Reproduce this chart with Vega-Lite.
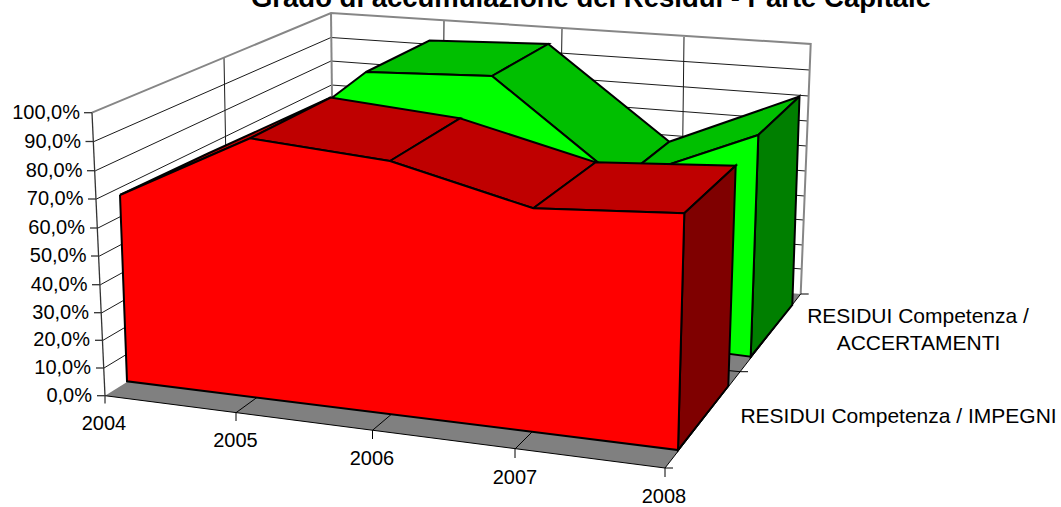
{"$schema":"https://vega.github.io/schema/vega-lite/v6.json","width":1061,"height":507,"padding":0,"autosize":"none","background":"white","config":{"view":{"stroke":null}},
"datasets":{
"griglia":[
{"id":"p90","o":0,"sx":94,"sy":141.5},{"id":"p90","o":1,"sx":331,"sy":37.5},{"id":"p90","o":2,"sx":809.7,"sy":70},
{"id":"p80","o":0,"sx":95.5,"sy":170.7},{"id":"p80","o":1,"sx":331,"sy":61},{"id":"p80","o":2,"sx":808.7,"sy":96},
{"id":"p70","o":0,"sx":96.5,"sy":199},{"id":"p70","o":1,"sx":331.5,"sy":85},{"id":"p70","o":2,"sx":807.7,"sy":121},
{"id":"p60","o":0,"sx":98,"sy":228},{"id":"p60","o":1,"sx":332,"sy":109},{"id":"p60","o":2,"sx":806.7,"sy":146},
{"id":"p50","o":0,"sx":99.5,"sy":256},{"id":"p50","o":1,"sx":332.5,"sy":133},{"id":"p50","o":2,"sx":805.7,"sy":171},
{"id":"p40","o":0,"sx":100.5,"sy":284.7},{"id":"p40","o":1,"sx":333,"sy":157},{"id":"p40","o":2,"sx":804.7,"sy":196},
{"id":"p30","o":0,"sx":102,"sy":312.7},{"id":"p30","o":1,"sx":333,"sy":181},{"id":"p30","o":2,"sx":803.7,"sy":220},
{"id":"p20","o":0,"sx":103,"sy":340.3},{"id":"p20","o":1,"sx":333.5,"sy":205},{"id":"p20","o":2,"sx":802.7,"sy":245},
{"id":"p10","o":0,"sx":104,"sy":368},{"id":"p10","o":1,"sx":334,"sy":229},{"id":"p10","o":2,"sx":801.7,"sy":269},
{"id":"v1","o":0,"sx":224,"sy":58},{"id":"v1","o":1,"sx":229,"sy":323},
{"id":"v2","o":0,"sx":444,"sy":20},{"id":"v2","o":1,"sx":442,"sy":263},
{"id":"v3","o":0,"sx":562,"sy":29},{"id":"v3","o":1,"sx":558,"sy":273},
{"id":"v4","o":0,"sx":684,"sy":37},{"id":"v4","o":1,"sx":681,"sy":283}],
"cornice":[
{"id":"c","o":0,"sx":92,"sy":112.7},{"id":"c","o":1,"sx":331,"sy":13},{"id":"c","o":2,"sx":810.7,"sy":44},{"id":"c","o":3,"sx":800.7,"sy":294},
{"id":"e","o":0,"sx":331,"sy":13},{"id":"e","o":1,"sx":332,"sy":97}],
"pavimento":[{"f":"pavimento","o":0,"sx":105,"sy":395.7},{"f":"pavimento","o":1,"sx":665,"sy":468},{"f":"pavimento","o":2,"sx":800.7,"sy":294},{"f":"pavimento","o":3,"sx":334,"sy":253},{"f":"pavimento","o":4,"sx":105,"sy":395.7}],
"lineePavimento":[
{"id":"a5","o":0,"sx":236,"sy":412.7},{"id":"a5","o":1,"sx":442,"sy":263},
{"id":"a6","o":0,"sx":372.5,"sy":430.3},{"id":"a6","o":1,"sx":558,"sy":273},
{"id":"a7","o":0,"sx":515,"sy":449},{"id":"a7","o":1,"sx":681,"sy":283},
{"id":"s","o":0,"sx":229,"sy":323},{"id":"s","o":1,"sx":740,"sy":371.7},
{"id":"fr","o":0,"sx":105,"sy":395.7},{"id":"fr","o":1,"sx":665,"sy":468},{"id":"fr","o":2,"sx":800.7,"sy":294},
{"id":"t04","o":0,"sx":105,"sy":395.7},{"id":"t04","o":1,"sx":105,"sy":403.5},
{"id":"t05","o":0,"sx":236,"sy":412.7},{"id":"t05","o":1,"sx":236,"sy":421},
{"id":"t06","o":0,"sx":372.5,"sy":430.3},{"id":"t06","o":1,"sx":372.5,"sy":439},
{"id":"t07","o":0,"sx":515,"sy":449},{"id":"t07","o":1,"sx":515,"sy":458},
{"id":"t08","o":0,"sx":665,"sy":468},{"id":"t08","o":1,"sx":665,"sy":477},
{"id":"ts0","o":0,"sx":665,"sy":468},{"id":"ts0","o":1,"sx":673,"sy":468},
{"id":"ts1","o":0,"sx":740,"sy":371.7},{"id":"ts1","o":1,"sx":748,"sy":371.7},
{"id":"ts2","o":0,"sx":800.7,"sy":294},{"id":"ts2","o":1,"sx":808.7,"sy":294}],
"asse":[
{"id":"asse","o":0,"sx":92,"sy":112.7},{"id":"asse","o":1,"sx":105,"sy":395.7},
{"id":"y100","o":0,"sx":84,"sy":112.7},{"id":"y100","o":1,"sx":92,"sy":112.7},
{"id":"y90","o":0,"sx":85.5,"sy":141.5},{"id":"y90","o":1,"sx":94,"sy":141.5},
{"id":"y80","o":0,"sx":87,"sy":170.7},{"id":"y80","o":1,"sx":95.5,"sy":170.7},
{"id":"y70","o":0,"sx":88,"sy":199},{"id":"y70","o":1,"sx":96.5,"sy":199},
{"id":"y60","o":0,"sx":90,"sy":228},{"id":"y60","o":1,"sx":98,"sy":228},
{"id":"y50","o":0,"sx":91,"sy":256},{"id":"y50","o":1,"sx":99.5,"sy":256},
{"id":"y40","o":0,"sx":92,"sy":284.7},{"id":"y40","o":1,"sx":100.5,"sy":284.7},
{"id":"y30","o":0,"sx":94,"sy":312.7},{"id":"y30","o":1,"sx":102,"sy":312.7},
{"id":"y20","o":0,"sx":95,"sy":340.3},{"id":"y20","o":1,"sx":103,"sy":340.3},
{"id":"y10","o":0,"sx":96,"sy":368},{"id":"y10","o":1,"sx":104,"sy":368},
{"id":"y0","o":0,"sx":97,"sy":395.7},{"id":"y0","o":1,"sx":105,"sy":395.7}],
"facce":[
{"id":"as1","f":"ACCERTAMENTI sopra","o":0,"sx":366,"sy":72},{"id":"as1","f":"ACCERTAMENTI sopra","o":1,"sx":492,"sy":76},{"id":"as1","f":"ACCERTAMENTI sopra","o":2,"sx":548.3,"sy":44},{"id":"as1","f":"ACCERTAMENTI sopra","o":3,"sx":429.5,"sy":40.5},{"id":"as1","f":"ACCERTAMENTI sopra","o":4,"sx":366,"sy":72},
{"id":"as2","f":"ACCERTAMENTI sopra","o":0,"sx":492,"sy":76},{"id":"as2","f":"ACCERTAMENTI sopra","o":1,"sx":620,"sy":180.6},{"id":"as2","f":"ACCERTAMENTI sopra","o":2,"sx":669.3,"sy":141.7},{"id":"as2","f":"ACCERTAMENTI sopra","o":3,"sx":548.3,"sy":44},{"id":"as2","f":"ACCERTAMENTI sopra","o":4,"sx":492,"sy":76},
{"id":"as3","f":"ACCERTAMENTI sopra","o":0,"sx":620,"sy":180.6},{"id":"as3","f":"ACCERTAMENTI sopra","o":1,"sx":758.3,"sy":135},{"id":"as3","f":"ACCERTAMENTI sopra","o":2,"sx":799.5,"sy":96.5},{"id":"as3","f":"ACCERTAMENTI sopra","o":3,"sx":669.3,"sy":141.7},{"id":"as3","f":"ACCERTAMENTI sopra","o":4,"sx":620,"sy":180.6},
{"id":"al","f":"ACCERTAMENTI lato","o":0,"sx":758.3,"sy":135},{"id":"al","f":"ACCERTAMENTI lato","o":1,"sx":799.5,"sy":96.5},{"id":"al","f":"ACCERTAMENTI lato","o":2,"sx":792.3,"sy":305},{"id":"al","f":"ACCERTAMENTI lato","o":3,"sx":750.7,"sy":356.7},{"id":"al","f":"ACCERTAMENTI lato","o":4,"sx":758.3,"sy":135},
{"id":"af","f":"ACCERTAMENTI fronte","o":0,"sx":300,"sy":122},{"id":"af","f":"ACCERTAMENTI fronte","o":1,"sx":366,"sy":72},{"id":"af","f":"ACCERTAMENTI fronte","o":2,"sx":492,"sy":76},{"id":"af","f":"ACCERTAMENTI fronte","o":3,"sx":620,"sy":180.6},{"id":"af","f":"ACCERTAMENTI fronte","o":4,"sx":758.3,"sy":135},{"id":"af","f":"ACCERTAMENTI fronte","o":5,"sx":750.7,"sy":356.7},{"id":"af","f":"ACCERTAMENTI fronte","o":6,"sx":300,"sy":298},{"id":"af","f":"ACCERTAMENTI fronte","o":7,"sx":300,"sy":122},
{"id":"is1","f":"IMPEGNI sopra","o":0,"sx":120,"sy":195},{"id":"is1","f":"IMPEGNI sopra","o":1,"sx":250,"sy":138.3},{"id":"is1","f":"IMPEGNI sopra","o":2,"sx":330.7,"sy":97.5},{"id":"is1","f":"IMPEGNI sopra","o":3,"sx":208,"sy":153.5},{"id":"is1","f":"IMPEGNI sopra","o":4,"sx":120,"sy":195},
{"id":"is2","f":"IMPEGNI sopra","o":0,"sx":250,"sy":138.3},{"id":"is2","f":"IMPEGNI sopra","o":1,"sx":390,"sy":161},{"id":"is2","f":"IMPEGNI sopra","o":2,"sx":460,"sy":118.3},{"id":"is2","f":"IMPEGNI sopra","o":3,"sx":330.7,"sy":97.5},{"id":"is2","f":"IMPEGNI sopra","o":4,"sx":250,"sy":138.3},
{"id":"is3","f":"IMPEGNI sopra","o":0,"sx":390,"sy":161},{"id":"is3","f":"IMPEGNI sopra","o":1,"sx":533.3,"sy":208.3},{"id":"is3","f":"IMPEGNI sopra","o":2,"sx":595.7,"sy":162.3},{"id":"is3","f":"IMPEGNI sopra","o":3,"sx":460,"sy":118.3},{"id":"is3","f":"IMPEGNI sopra","o":4,"sx":390,"sy":161},
{"id":"is4","f":"IMPEGNI sopra","o":0,"sx":533.3,"sy":208.3},{"id":"is4","f":"IMPEGNI sopra","o":1,"sx":684.3,"sy":213.3},{"id":"is4","f":"IMPEGNI sopra","o":2,"sx":735.7,"sy":165.7},{"id":"is4","f":"IMPEGNI sopra","o":3,"sx":595.7,"sy":162.3},{"id":"is4","f":"IMPEGNI sopra","o":4,"sx":533.3,"sy":208.3},
{"id":"il","f":"IMPEGNI lato","o":0,"sx":684.3,"sy":213.3},{"id":"il","f":"IMPEGNI lato","o":1,"sx":735.7,"sy":165.7},{"id":"il","f":"IMPEGNI lato","o":2,"sx":728.3,"sy":386},{"id":"il","f":"IMPEGNI lato","o":3,"sx":678,"sy":450},{"id":"il","f":"IMPEGNI lato","o":4,"sx":684.3,"sy":213.3},
{"id":"if","f":"IMPEGNI fronte","o":0,"sx":120,"sy":195},{"id":"if","f":"IMPEGNI fronte","o":1,"sx":250,"sy":138.3},{"id":"if","f":"IMPEGNI fronte","o":2,"sx":390,"sy":161},{"id":"if","f":"IMPEGNI fronte","o":3,"sx":533.3,"sy":208.3},{"id":"if","f":"IMPEGNI fronte","o":4,"sx":684.3,"sy":213.3},{"id":"if","f":"IMPEGNI fronte","o":5,"sx":678,"sy":450},{"id":"if","f":"IMPEGNI fronte","o":6,"sx":127,"sy":381.3},{"id":"if","f":"IMPEGNI fronte","o":7,"sx":120,"sy":195}],
"etichetteY":[
{"t":"100,0%","sx":80,"sy":112.7},{"t":"90,0%","sx":81,"sy":141.5},{"t":"80,0%","sx":82.5,"sy":170.7},{"t":"70,0%","sx":83.5,"sy":199},{"t":"60,0%","sx":85,"sy":228},{"t":"50,0%","sx":86.5,"sy":256},{"t":"40,0%","sx":87.5,"sy":284.7},{"t":"30,0%","sx":89,"sy":312.7},{"t":"20,0%","sx":90,"sy":340.3},{"t":"10,0%","sx":91,"sy":368},{"t":"0,0%","sx":92,"sy":395.7}],
"etichetteC":[
{"t":"2004","sx":104,"sy":424},{"t":"2005","sx":235.5,"sy":441},{"t":"2006","sx":372,"sy":459},{"t":"2007","sx":515,"sy":478},{"t":"2008","sx":664,"sy":497}],
"etichetteS":[
{"t":"RESIDUI Competenza /","sx":918,"sy":317},{"t":"ACCERTAMENTI","sx":918.5,"sy":343.5},{"t":"RESIDUI Competenza / IMPEGNI","sx":898.5,"sy":417}],
"titolo":[{"t":"Grado di accumulazione dei Residui - Parte Capitale","sx":591,"sy":6.5}]
},
"encoding":{"x":{"field":"sx","type":"quantitative","axis":null,"scale":{"domain":[0,1061],"nice":false,"zero":false}},"y":{"field":"sy","type":"quantitative","axis":null,"scale":{"domain":[507,0],"nice":false,"zero":false}}},
"layer":[
{"data":{"name":"griglia"},"mark":{"type":"line","stroke":"#1a1a1a","strokeWidth":1},"encoding":{"detail":{"field":"id"},"order":{"field":"o"}}},
{"data":{"name":"cornice"},"mark":{"type":"line","stroke":"#868686","strokeWidth":2,"strokeJoin":"miter"},"encoding":{"detail":{"field":"id"},"order":{"field":"o"}}},
{"data":{"name":"pavimento"},"mark":{"type":"line","stroke":null,"fill":"#808080"},"encoding":{"order":{"field":"o"}}},
{"data":{"name":"lineePavimento"},"mark":{"type":"line","stroke":"#000000","strokeWidth":1},"encoding":{"detail":{"field":"id"},"order":{"field":"o"}}},
{"data":{"name":"asse"},"mark":{"type":"line","stroke":"#333333","strokeWidth":1.3},"encoding":{"detail":{"field":"id"},"order":{"field":"o"}}},
{"data":{"name":"facce"},"mark":{"type":"line","stroke":"#000000","strokeWidth":2,"strokeJoin":"miter"},"encoding":{"detail":{"field":"id"},"order":{"field":"o"},"fill":{"field":"f","type":"nominal","legend":null,"scale":{"domain":["ACCERTAMENTI fronte","ACCERTAMENTI sopra","ACCERTAMENTI lato","IMPEGNI fronte","IMPEGNI sopra","IMPEGNI lato"],"range":["#00ff00","#00bf00","#007f00","#ff0000","#bf0000","#7f0000"]}}}},
{"data":{"name":"etichetteY"},"mark":{"type":"text","align":"right","baseline":"middle","font":"Liberation Sans","fontSize":20,"fill":"#000000"},"encoding":{"text":{"field":"t"}}},
{"data":{"name":"etichetteC"},"mark":{"type":"text","align":"center","baseline":"middle","font":"Liberation Sans","fontSize":20,"fill":"#000000"},"encoding":{"text":{"field":"t"}}},
{"data":{"name":"etichetteS"},"mark":{"type":"text","align":"center","baseline":"middle","font":"Liberation Sans","fontSize":21,"fill":"#000000"},"encoding":{"text":{"field":"t"}}},
{"data":{"name":"titolo"},"mark":{"type":"text","align":"center","baseline":"alphabetic","font":"Liberation Sans","fontSize":27.5,"fontWeight":"bold","fill":"#000000"},"encoding":{"text":{"field":"t"}}}
]}
